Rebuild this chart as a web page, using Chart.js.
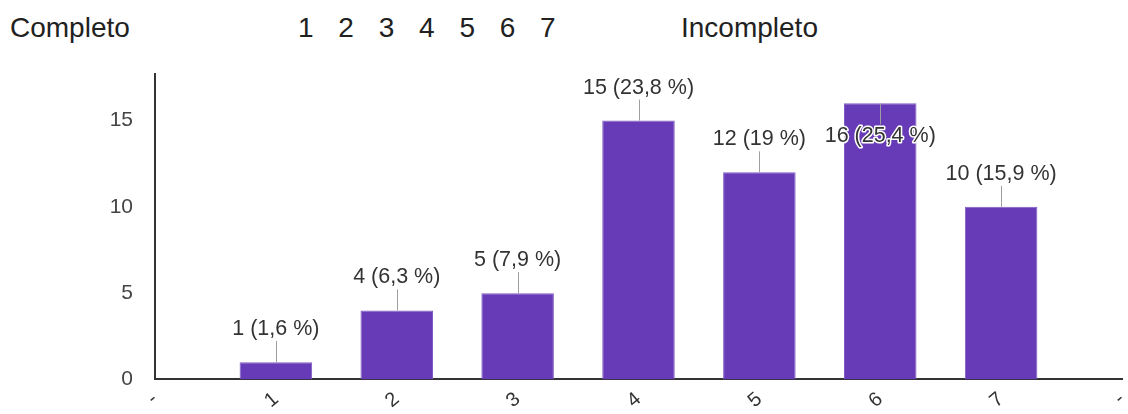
<!DOCTYPE html>
<html>
<head>
<meta charset="utf-8">
<script src="https://cdn.jsdelivr.net/npm/chart.js@4.4.0/dist/chart.umd.min.js"></script>
<style>
  html, body { margin: 0; padding: 0; background: #fff; }
  #wrap { position: relative; width: 1128px; height: 414px; overflow: hidden; }
  .head { position: absolute; top: 14px; font: 28px/28px "Liberation Sans", Arial, sans-serif; color: #212121; white-space: pre; }
  #scale { word-spacing: 17px; }
  canvas { position: absolute; left: 0; top: 0; }
</style>
</head>
<body>
<div id="wrap">
  <div class="head" style="left:10px">Completo</div>
  <div class="head" id="scale" style="left:298px">1 2 3 4 5 6 7</div>
  <div class="head" style="left:681px">Incompleto</div>
  <canvas id="bars" width="1128" height="414"></canvas>
</div>
<script>
// 응답 데이터 (양 끝은 빈 칸)
const categories = ['-', '1', '2', '3', '4', '5', '6', '7', '-'];
const counts = [null, 1, 4, 5, 15, 12, 16, 10, null];
const percents = [null, 1.6, 6.3, 7.9, 23.8, 19, 25.4, 15.9, null];
const yTicks = [0, 5, 10, 15];

const BAR_COLOR = '#673AB7';
const FONT = '"Liberation Sans", Arial, sans-serif';

/**
 * 막대 위에 "값 (퍼센트 %)" 라벨과 연결선을 그리는 플러그인
 */
const valueLabels = {
  id: 'valueLabels',
  afterDatasetsDraw(chart) {
    const ctx = chart.ctx;
    const meta = chart.getDatasetMeta(0);
    const top = chart.chartArea.top;
    ctx.save();
    ctx.font = '21.5px ' + FONT;
    ctx.textAlign = 'center';
    ctx.textBaseline = 'middle';
    meta.data.forEach((bar, i) => {
      if (counts[i] == null) return;
      const text = counts[i] + ' (' + String(percents[i]).replace('.', ',') + ' %)';
      let lineA = bar.y - 21, lineB = bar.y, textY = lineA - 12;
      // 위쪽 공간이 없으면 막대 안쪽으로 내려서 그림
      if (textY - 10 < top) {
        lineA = bar.y; lineB = bar.y + 21; textY = lineB + 12;
      }
      ctx.strokeStyle = '#9e9e9e';
      ctx.lineWidth = 1;
      ctx.beginPath();
      ctx.moveTo(Math.round(bar.x) + 0.5, lineA);
      ctx.lineTo(Math.round(bar.x) + 0.5, lineB);
      ctx.stroke();
      ctx.lineWidth = 3;
      ctx.strokeStyle = '#fff';
      ctx.lineJoin = 'round';
      ctx.strokeText(text, bar.x, textY);
      ctx.fillStyle = '#333';
      ctx.fillText(text, bar.x, textY);
    });
    ctx.restore();
  }
};

new Chart(document.getElementById('bars').getContext('2d'), {
  type: 'bar',
  data: {
    labels: categories,
    datasets: [{
      data: counts,
      backgroundColor: BAR_COLOR,
      borderColor: '#7f5cc4',
      borderWidth: 1,
      categoryPercentage: 1,
      barPercentage: 0.6
    }]
  },
  options: {
    responsive: false,
    animation: false,
    layout: { padding: { top: 74, right: 6, left: 0, bottom: 0 } },
    plugins: { legend: { display: false }, tooltip: { enabled: false } },
    scales: {
      x: {
        offset: false,
        grid: { display: false, drawTicks: false },
        border: { display: true, color: '#333', width: 2 },
        ticks: {
          autoSkip: false,
          minRotation: 40,
          maxRotation: 40,
          padding: 8,
          color: '#333',
          font: { size: 20, family: FONT }
        },
        afterFit(scale) {
          scale.height = 33;
          // 회전된 끝 라벨 때문에 생기는 여백 제거
          scale.paddingLeft = 0;
          scale.paddingRight = 0;
        }
      },
      y: {
        min: 0,
        max: 17.7,
        grid: { display: false, drawTicks: false },
        border: { display: true, color: '#333', width: 2 },
        ticks: {
          stepSize: 5,
          padding: 22,
          color: '#444',
          font: { size: 21, family: FONT }
        },
        afterBuildTicks(scale) {
          scale.ticks = yTicks.map(v => ({ value: v }));
        },
        afterFit(scale) { scale.width = 155; }
      }
    }
  },
  plugins: [valueLabels]
});
</script>
</body>
</html>
